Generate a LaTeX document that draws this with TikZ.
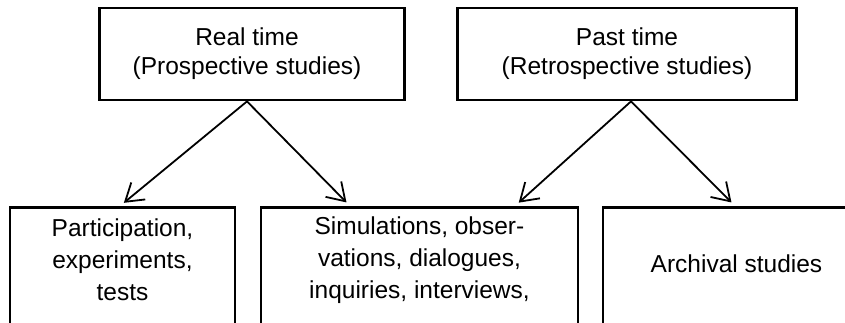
\documentclass[tikz,border=0pt]{standalone}
\usepackage{fontspec}
\setmainfont{Liberation Sans}
\usetikzlibrary{arrows.meta}
\begin{document}
\begin{tikzpicture}[x=1pt,y=1pt,
  box/.style={draw, line width=2.8pt, inner sep=0pt},
  lowbox/.style={box, anchor=north, minimum height=170pt},
  toplbl/.style={font=\fontsize{24.5}{29}\selectfont, align=center, inner sep=0pt},
  lbl/.style={font=\fontsize{24.5}{32}\selectfont, align=center, inner sep=0pt},
  link/.style={line width=1.8pt, shorten >=5pt,
    -{Straight Barb[length=17pt,width=22pt,line width=1.8pt]}}]
\useasboundingbox (0,0) rectangle (845,322);
\clip (0,0) rectangle (845,322);

% upper row: time frames
\node[box, minimum width=305pt, minimum height=92pt] (real) at (252,268) {};
\node[box, minimum width=339pt, minimum height=92pt] (past) at (627,268) {};
\node[toplbl] (realT) at ([xshift=-5pt]real.center) {Real time\\(Prospective studies)};
\node[toplbl] (pastT) at (past.center) {Past time\\(Retrospective studies)};

% lower row: methods (boxes run past the lower edge)
\node[lowbox, minimum width=225pt] (part) at (122.5,116) {};
\node[lowbox, minimum width=317pt] (sim) at (419.5,116) {};
\node[lowbox, minimum width=267pt] (arch) at (736.5,116) {};

\node[lbl] (partT) at ([yshift=-54pt]part.north) {Participation,\\experiments,\\tests};
\node[lbl] (simT) at ([yshift=-54pt]sim.north) {Simulations, obser-\\vations, dialogues,\\inquiries, interviews,};
\node[lbl] (archT) at ([yshift=-58pt]arch.north) {Archival studies};

% connectors
\draw[link] ([xshift=-5pt]real.south) -- ([xshift=-2.5pt]part.north);
\draw[link] ([xshift=-5pt]real.south) -- ([xshift=-69.5pt]sim.north);
\draw[link] ([xshift=4pt]past.south) -- ([xshift=95.5pt]sim.north);
\draw[link] ([xshift=4pt]past.south) -- ([xshift=-1.5pt]arch.north);
\end{tikzpicture}
\end{document}
